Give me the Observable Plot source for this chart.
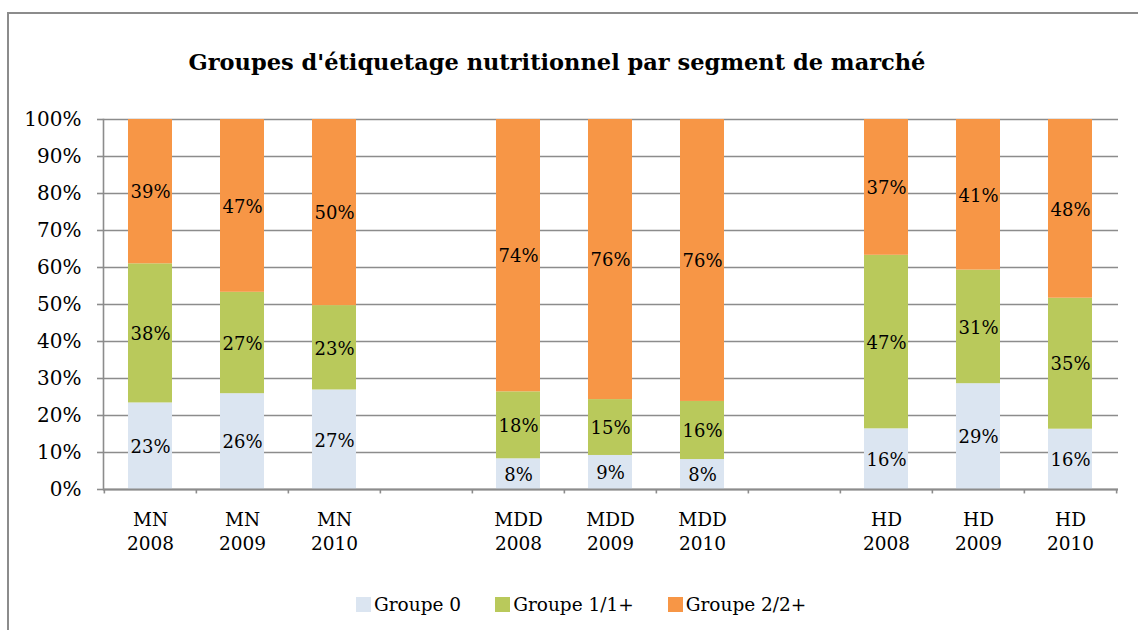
<!DOCTYPE html>
<html>
<head>
<meta charset="utf-8">
<script src="https://cdn.jsdelivr.net/npm/d3@7"></script>
<script src="https://cdn.jsdelivr.net/npm/@observablehq/plot@0.6"></script>
<style>
  body { margin: 0; background: #fff; font-family: "DejaVu Serif", serif; }
  #wrap { position: relative; width: 1138px; height: 630px; overflow: hidden; }
  #frame { position: absolute; left: 7px; top: 12px; width: 1300px; height: 800px;
           border-left: 2px solid #8c8c8c; border-top: 2px solid #8c8c8c; }
  #title { position: absolute; top: 49px; left: 0; width: 1114px; text-align: center;
           font-weight: bold; font-size: 22.5px; color: #000; white-space: nowrap; }
  #chart { position: absolute; left: 0; top: 95px; }
  #legend { position: absolute; top: 594px; left: 356px; display: flex; align-items: center;
            font-size: 18.5px; color: #000; }
  .item { display: flex; align-items: center; margin-right: 34px; }
  .sw { width: 15px; height: 15px; margin-right: 3px; }
</style>
</head>
<body>
<div id="wrap">
  <div id="frame"></div>
  <div id="title"></div>
  <div id="chart"></div>
  <div id="legend"></div>
</div>
<script>
// ---- data ----
const title = "Groupes d'étiquetage nutritionnel par segment de marché";
const categories = ["MN\n2008", "MN\n2009", "MN\n2010", "MDD\n2008", "MDD\n2009", "MDD\n2010", "HD\n2008", "HD\n2009", "HD\n2010"];
const slots = ["MN\n2008", "MN\n2009", "MN\n2010", "gap1", "MDD\n2008", "MDD\n2009", "MDD\n2010", "gap2", "HD\n2008", "HD\n2009", "HD\n2010"];
const seriesNames = ["Groupe 0", "Groupe 1/1+", "Groupe 2/2+"];
const groupe0 = [23.4, 25.9, 26.9, 8.3, 9.2, 8.1, 16.4, 28.6, 16.3];
const groupe1 = [37.6, 27.4, 22.8, 18.1, 15.1, 15.7, 46.9, 30.7, 35.4];
const groupe2 = [39.0, 46.7, 50.3, 73.6, 75.7, 76.2, 36.7, 40.7, 48.3];
const colors = ["#dbe5f1", "#b9c95b", "#f79646"];
const yTicks = [0, 10, 20, 30, 40, 50, 60, 70, 80, 90, 100];

// ---- table ----
const seriesValues = [groupe0, groupe1, groupe2];
const rows = [];
categories.forEach((c, i) => {
  seriesNames.forEach((s, j) => rows.push({cat: c, series: s, value: seriesValues[j][i]}));
});

const W = 1138, H = 470;
const mL = 103, mR = 20, mT = 24, mB = 76;
const step = (W - mL - mR) / slots.length;
const gridColor = "#8c8c8c";

document.getElementById("title").textContent = title;

const chart = Plot.plot({
  width: W, height: H,
  marginLeft: mL, marginRight: mR, marginTop: mT, marginBottom: mB,
  style: {fontFamily: "DejaVu Serif, serif", fontSize: "18px", color: "#000", background: "transparent"},
  x: {type: "band", domain: slots, paddingInner: 0.52, paddingOuter: 0.26, align: 0.5, label: null},
  y: {domain: [0, 100], ticks: yTicks, label: null},
  color: {domain: seriesNames, range: colors},
  marks: [
    Plot.gridY(yTicks, {stroke: gridColor, strokeOpacity: 1, strokeWidth: 1.6}),
    Plot.barY(rows, {x: "cat", y: "value", fill: "series", order: seriesNames}),
    Plot.text(rows, Plot.stackY({x: "cat", y: "value", z: "series", order: seriesNames,
      text: d => Math.round(d.value) + "%", fontSize: 18, fill: "#000", dy: 1})),
    Plot.frame({anchor: "left", stroke: gridColor, strokeWidth: 1.6}),
    Plot.ruleY([0], {stroke: gridColor, strokeWidth: 2}),
    Plot.ruleX(slots, {x: d => d, y1: 0, y2: -1.2, dx: -step / 2, stroke: gridColor, strokeWidth: 1.6}),
    Plot.ruleX([slots[slots.length - 1]], {x: d => d, y1: 0, y2: -1.2, dx: step / 2, stroke: gridColor, strokeWidth: 1.6}),
    Plot.axisY(yTicks, {tickSize: 6, tickPadding: 16, fontSize: 20, stroke: gridColor, strokeWidth: 1.6,
      tickFormat: d => d + "%", label: null}),
    Plot.axisX({tickSize: 0, tickPadding: 19, fontSize: 18.5, lineHeight: 1.3, label: null,
      tickFormat: d => d.startsWith("gap") ? "" : d})
  ]
});
document.getElementById("chart").appendChild(chart);

const legend = document.getElementById("legend");
seriesNames.forEach((s, i) => {
  const item = document.createElement("div");
  item.className = "item";
  const sw = document.createElement("div");
  sw.className = "sw";
  sw.style.background = colors[i];
  const t = document.createElement("span");
  t.textContent = s;
  item.appendChild(sw);
  item.appendChild(t);
  legend.appendChild(item);
});
</script>
</body>
</html>
